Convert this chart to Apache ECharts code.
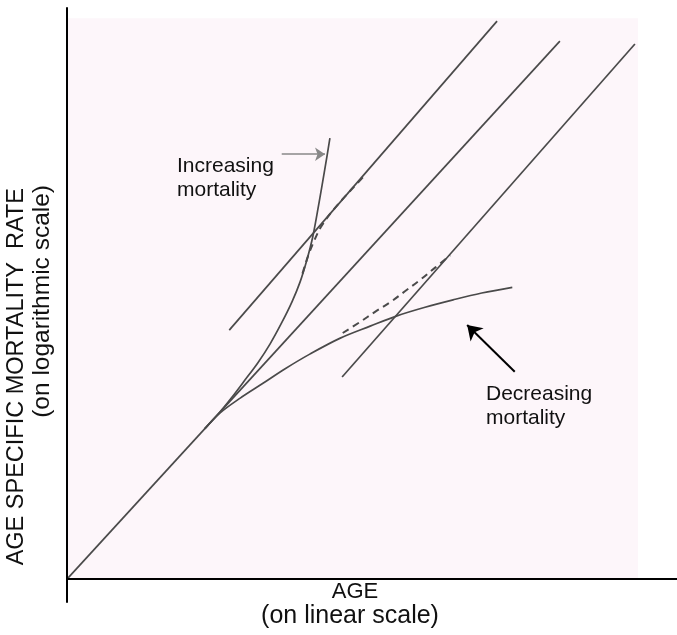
<!DOCTYPE html>
<html>
<head>
<meta charset="utf-8">
<script src="https://cdn.jsdelivr.net/npm/echarts@6/dist/echarts.min.js"></script>
<style>html,body{margin:0;padding:0;background:#fff;}#c{width:677px;height:635px;}</style>
</head>
<body>
<div id="c"></div>
<script>
// Schematic data (age on x 0-100, log mortality on y 0-100)
const mainLine = [[0, 0], [80.8, 94.2]];
const upperLine = [[26.6, 43.6], [70.5, 97.7]];
const lowerLine = [[45.1, 35.4], [93.1, 93.7]];
const increasing = [[22.6, 26.35], [25.1, 29.3], [27.0, 31.8], [29.2, 34.9], [31.3, 37.9], [33.3, 41.2], [35.2, 44.9], [36.9, 48.6], [38.2, 52.0], [39.3, 55.8], [40.3, 60.0], [41.3, 65.8], [42.3, 72.0], [43.1, 77.2]];
const decreasing = [[22.6, 26.35], [25.1, 29.1], [28.4, 31.7], [32.0, 34.2], [35.7, 36.8], [39.8, 39.4], [44.8, 42.2], [49.7, 44.3], [54.1, 46.1], [58.7, 47.6], [63.3, 48.9], [68.0, 50.1], [73.0, 51.1]];
const increasingDashed = [[38.6, 53.5], [39.5, 56.5], [40.5, 59.2], [41.6, 61.6], [43.1, 63.9], [44.9, 66.2], [46.7, 68.3], [48.9, 70.8]];
const decreasingDashed = [[45.2, 43.1], [48.0, 45.0], [50.5, 46.8], [53.0, 48.5], [55.4, 50.4], [57.9, 52.4], [60.3, 54.5], [62.8, 56.7]];
const arrowIncreasing = [[35.2, 74.4], [42.3, 74.4]];
const arrowDecreasing = [[73.4, 36.3], [65.6, 44.5]];
const plotArea = [[0, 0], [93.6, 98.2]];
const labelIncreasing = 'Increasing\nmortality';
const labelDecreasing = 'Decreasing\nmortality';
const xTitle1 = 'AGE';
const xTitle2 = '(on linear scale)';
const yTitle1 = 'AGE SPECIFIC MORTALITY  RATE';
const yTitle2 = '(on logarithmic scale)';

const chart = echarts.init(document.getElementById('c'), null, {renderer: 'canvas'});
const FONT = 'Liberation Sans, Arial, sans-serif';
const lineCol = '#4a4a4a';
function lineSeries(data, opts) {
  return Object.assign({
    type: 'line', data: data, showSymbol: false, symbol: 'none', z: 3,
    lineStyle: {color: lineCol, width: 1.7}, silent: true, animation: false
  }, opts || {});
}
chart.setOption({
  animation: false,
  backgroundColor: '#ffffff',
  grid: {left: 67, right: 0, top: 8, bottom: 33, containLabel: false},
  xAxis: {type: 'value', min: 0, max: 100, z: 6,
    axisLine: {show: true, onZero: true, lineStyle: {color: '#000', width: 2}},
    axisTick: {show: false}, axisLabel: {show: false}, splitLine: {show: false}},
  yAxis: {type: 'value', min: -4, max: 100, z: 6,
    axisLine: {show: true, onZero: true, lineStyle: {color: '#000', width: 2}},
    axisTick: {show: false}, axisLabel: {show: false}, splitLine: {show: false}},
  series: [
    {type: 'line', data: [], z: 1, silent: true,
      markArea: {silent: true, itemStyle: {color: '#fdf6fa'},
        data: [[{coord: plotArea[0]}, {coord: plotArea[1]}]]}},
    lineSeries(mainLine),
    lineSeries(upperLine),
    lineSeries(lowerLine),
    lineSeries(increasing, {smooth: 0.35}),
    lineSeries(decreasing, {smooth: 0.35}),
    lineSeries(increasingDashed, {smooth: 0.35, lineStyle: {color: lineCol, width: 2, type: [7, 5]}}),
    lineSeries(decreasingDashed, {smooth: 0.35, lineStyle: {color: lineCol, width: 2, type: [7, 5]}}),
    {type: 'lines', coordinateSystem: 'cartesian2d', silent: true, z: 4,
      symbol: ['none', 'arrow'], symbolSize: 10,
      lineStyle: {color: '#888', width: 1.6, opacity: 1},
      data: [{coords: arrowIncreasing}]},
    {type: 'lines', coordinateSystem: 'cartesian2d', silent: true, z: 4,
      symbol: ['none', 'arrow'], symbolSize: 14,
      lineStyle: {color: '#000', width: 2, opacity: 1},
      data: [{coords: arrowDecreasing}]}
  ],
  graphic: [
    {type: 'text', left: 177, top: 154, z: 10,
      style: {text: labelIncreasing, font: '21px ' + FONT, fill: '#111', lineHeight: 24}},
    {type: 'text', left: 486, top: 382, z: 10,
      style: {text: labelDecreasing, font: '21px ' + FONT, fill: '#111', lineHeight: 24}},
    {type: 'text', x: 355, y: 581, z: 10,
      style: {text: xTitle1, font: '22px ' + FONT, fill: '#111', textAlign: 'center', textVerticalAlign: 'top'}},
    {type: 'text', x: 350, y: 604, z: 10,
      style: {text: xTitle2, font: '25px ' + FONT, fill: '#111', textAlign: 'center', textVerticalAlign: 'top'}},
    {type: 'text', x: 17, y: 188, rotation: Math.PI / 2, z: 10,
      style: {text: yTitle1, font: '23.5px ' + FONT, fill: '#111', textAlign: 'right', textVerticalAlign: 'middle'}},
    {type: 'text', x: 42, y: 185, rotation: Math.PI / 2, z: 10,
      style: {text: yTitle2, font: '24.5px ' + FONT, fill: '#111', textAlign: 'right', textVerticalAlign: 'middle'}}
  ]
});
</script>
</body>
</html>
